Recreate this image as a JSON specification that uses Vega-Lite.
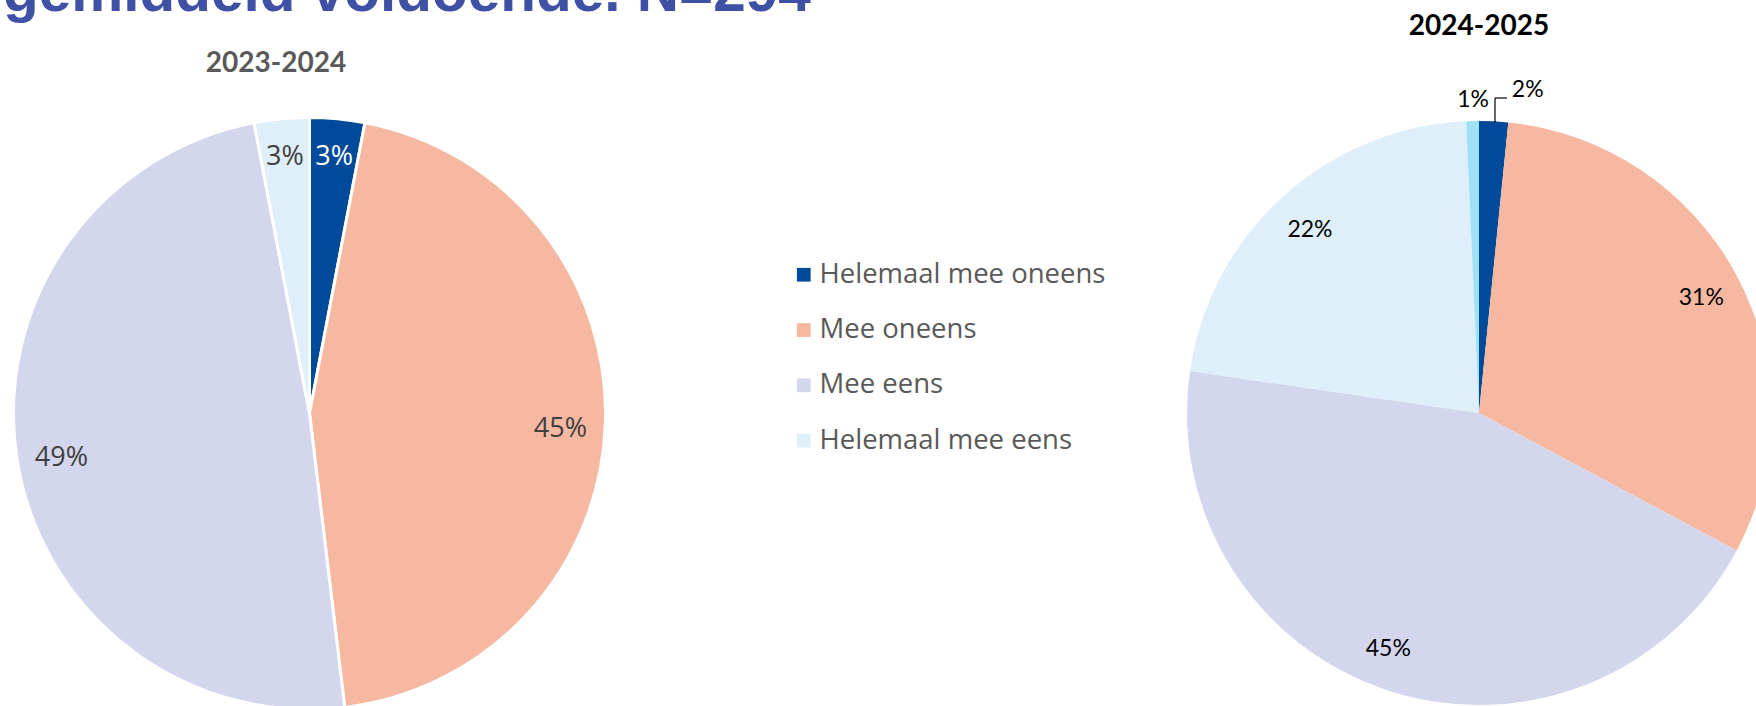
{
  "$schema": "https://vega.github.io/schema/vega-lite/v6.json",
  "width": 1756,
  "height": 706,
  "padding": 0,
  "autosize": {"type": "none"},
  "background": "white",
  "config": {"view": {"stroke": null}},
  "datasets": {
    "y2324": [
      {"year": "2023-2024", "category": "Helemaal mee oneens", "value": 3.0, "label": "3%", "rank": 1},
      {"year": "2023-2024", "category": "Mee oneens", "value": 45.1, "label": "45%", "rank": 2},
      {"year": "2023-2024", "category": "Mee eens", "value": 48.9, "label": "49%", "rank": 3},
      {"year": "2023-2024", "category": "Helemaal mee eens", "value": 3.0, "label": "3%", "rank": 4}
    ],
    "y2425": [
      {"year": "2024-2025", "category": "Helemaal mee oneens", "value": 1.6, "label": "2%", "rank": 1},
      {"year": "2024-2025", "category": "Mee oneens", "value": 31.2, "label": "31%", "rank": 2},
      {"year": "2024-2025", "category": "Mee eens", "value": 44.5, "label": "45%", "rank": 3},
      {"year": "2024-2025", "category": "Helemaal mee eens", "value": 22.0, "label": "22%", "rank": 4},
      {"year": "2024-2025", "category": "Geen mening", "value": 0.7, "label": "1%", "rank": 5}
    ]
  },
  "encoding": {
    "x": {"field": "year", "type": "nominal", "scale": {"type": "point", "domain": ["2023-2024", "2024-2025"], "range": [309.5, 1479], "padding": 0}, "axis": null},
    "y": {"field": "year", "type": "nominal", "scale": {"type": "point", "domain": ["2023-2024", "2024-2025"], "range": [413.5, 413], "padding": 0}, "axis": null}
  },
  "layer": [
    {
      "data": {"name": "y2324"},
      "mark": {"type": "arc", "outerRadius": 296, "stroke": "white", "strokeWidth": 3},
      "encoding": {
        "theta": {"field": "value", "type": "quantitative", "stack": true, "scale": {"domain": [0, 100]}},
        "order": {"field": "rank", "type": "quantitative"},
        "color": {
          "field": "category", "type": "nominal",
          "scale": {
            "domain": ["Helemaal mee oneens", "Mee oneens", "Mee eens", "Helemaal mee eens", "Geen mening"],
            "range": ["#004A99", "#F6B8A0", "#D3D6EC", "#DEEFFA", "#9EE1F7"]
          },
          "legend": {
            "values": ["Helemaal mee oneens", "Mee oneens", "Mee eens", "Helemaal mee eens"],
            "title": null,
            "orient": "none",
            "legendX": 790,
            "legendY": 261,
            "direction": "vertical",
            "padding": 0,
            "symbolType": "square",
            "symbolSize": 188,
            "symbolStrokeWidth": 0,
            "labelFont": "Open Sans",
            "labelFontSize": 27.5,
            "labelColor": "#595959",
            "labelOffset": 2,
            "labelLimit": 0,
            "rowPadding": 26.3
          }
        }
      }
    },
    {
      "data": {"name": "y2425"},
      "mark": {"type": "arc", "outerRadius": 292, "strokeWidth": 0},
      "encoding": {
        "theta": {"field": "value", "type": "quantitative", "stack": true, "scale": {"domain": [0, 100]}},
        "order": {"field": "rank", "type": "quantitative"},
        "color": {"field": "category", "type": "nominal"}
      }
    },
    {
      "data": {"name": "y2324"},
      "mark": {"type": "text", "radius": 251, "dy": 6.5, "font": "Open Sans", "fontSize": 27, "align": "center", "baseline": "middle"},
      "encoding": {
        "theta": {"field": "value", "type": "quantitative", "stack": true, "scale": {"domain": [0, 100]}},
        "order": {"field": "rank", "type": "quantitative"},
        "detail": {"field": "category", "type": "nominal"},
        "text": {"field": "label"},
        "opacity": {"condition": {"test": "datum.value >= 10", "value": 1}, "value": 0},
        "color": {"value": "#404040"}
      }
    },
    {
      "data": {"name": "y2324"},
      "mark": {"type": "text", "radius": 262, "dy": 4.5, "font": "Open Sans", "fontSize": 27, "align": "center", "baseline": "middle"},
      "encoding": {
        "theta": {"field": "value", "type": "quantitative", "stack": true, "scale": {"domain": [0, 100]}},
        "order": {"field": "rank", "type": "quantitative"},
        "detail": {"field": "category", "type": "nominal"},
        "text": {"field": "label"},
        "opacity": {"condition": {"test": "datum.value < 10", "value": 1}, "value": 0},
        "color": {"condition": {"test": "datum.category === 'Helemaal mee oneens'", "value": "#FFFFFF"}, "value": "#404040"}
      }
    },
    {
      "data": {"name": "y2425"},
      "mark": {"type": "text", "radius": 252, "dy": 4, "font": "Lato", "fontSize": 23, "align": "center", "baseline": "middle", "color": "#000000"},
      "encoding": {
        "theta": {"field": "value", "type": "quantitative", "stack": true, "scale": {"domain": [0, 100]}},
        "order": {"field": "rank", "type": "quantitative"},
        "detail": {"field": "category", "type": "nominal"},
        "text": {"field": "label"},
        "opacity": {"condition": {"test": "datum.category === 'Mee oneens' || datum.category === 'Helemaal mee eens'", "value": 1}, "value": 0}
      }
    },
    {
      "data": {"name": "y2425"},
      "mark": {"type": "text", "radius": 249, "dx": -13, "dy": -1, "font": "Lato", "fontSize": 23, "align": "center", "baseline": "middle", "color": "#000000"},
      "encoding": {
        "theta": {"field": "value", "type": "quantitative", "stack": true, "scale": {"domain": [0, 100]}},
        "order": {"field": "rank", "type": "quantitative"},
        "detail": {"field": "category", "type": "nominal"},
        "text": {"field": "label"},
        "opacity": {"condition": {"test": "datum.category === 'Mee eens'", "value": 1}, "value": 0}
      }
    },
    {
      "data": {"name": "y2425"},
      "mark": {"type": "text", "radius": 313, "dx": 1, "font": "Lato", "fontSize": 23, "align": "center", "baseline": "middle", "color": "#000000"},
      "encoding": {
        "theta": {"field": "value", "type": "quantitative", "stack": true, "scale": {"domain": [0, 100]}},
        "order": {"field": "rank", "type": "quantitative"},
        "detail": {"field": "category", "type": "nominal"},
        "text": {"field": "label"},
        "opacity": {"condition": {"test": "datum.category === 'Geen mening'", "value": 1}, "value": 0}
      }
    },
    {
      "data": {"name": "y2425"},
      "mark": {"type": "text", "radius": 313, "dx": 33, "dy": -10, "font": "Lato", "fontSize": 23, "align": "center", "baseline": "middle", "color": "#000000"},
      "encoding": {
        "theta": {"field": "value", "type": "quantitative", "stack": true, "scale": {"domain": [0, 100]}},
        "order": {"field": "rank", "type": "quantitative"},
        "detail": {"field": "category", "type": "nominal"},
        "text": {"field": "label"},
        "opacity": {"condition": {"test": "datum.category === 'Helemaal mee oneens'", "value": 1}, "value": 0}
      }
    },
    {
      "data": {"name": "y2425"},
      "transform": [{"aggregate": [{"op": "count", "as": "n"}], "groupby": ["year"]}],
      "mark": {"type": "rule", "color": "#000000", "strokeWidth": 1.2, "xOffset": 16, "yOffset": -290, "y2Offset": -315},
      "encoding": {
        "y2": {"field": "year"}
      }
    },
    {
      "data": {"name": "y2425"},
      "transform": [{"aggregate": [{"op": "count", "as": "n"}], "groupby": ["year"]}],
      "mark": {"type": "rule", "color": "#000000", "strokeWidth": 1.2, "xOffset": 16, "x2Offset": 28, "yOffset": -315},
      "encoding": {
        "x2": {"field": "year"}
      }
    },
    {
      "data": {"name": "y2324"},
      "transform": [{"aggregate": [{"op": "count", "as": "n"}], "groupby": ["year"]}],
      "mark": {"type": "text", "font": "Lato", "fontSize": 28, "fontWeight": "bold", "align": "center", "baseline": "alphabetic", "dx": -33.5, "dy": -341.5, "color": "#595959"},
      "encoding": {"text": {"field": "year"}}
    },
    {
      "data": {"name": "y2425"},
      "transform": [{"aggregate": [{"op": "count", "as": "n"}], "groupby": ["year"]}],
      "mark": {"type": "text", "font": "Lato", "fontSize": 28, "fontWeight": "bold", "align": "center", "baseline": "alphabetic", "dx": 0, "dy": -378, "color": "#000000"},
      "encoding": {"text": {"field": "year"}}
    },
    {
      "data": {"name": "y2324"},
      "transform": [{"aggregate": [{"op": "count", "as": "n"}], "groupby": ["year"]}],
      "mark": {"type": "text", "text": "gemiddeld voldoende. N=294", "font": "Liberation Sans", "fontSize": 58.5, "fontWeight": "bold", "align": "left", "baseline": "alphabetic", "dx": -306.5, "dy": -402.5, "color": "#3F51A5"},
      "encoding": {}
    }
  ]
}
